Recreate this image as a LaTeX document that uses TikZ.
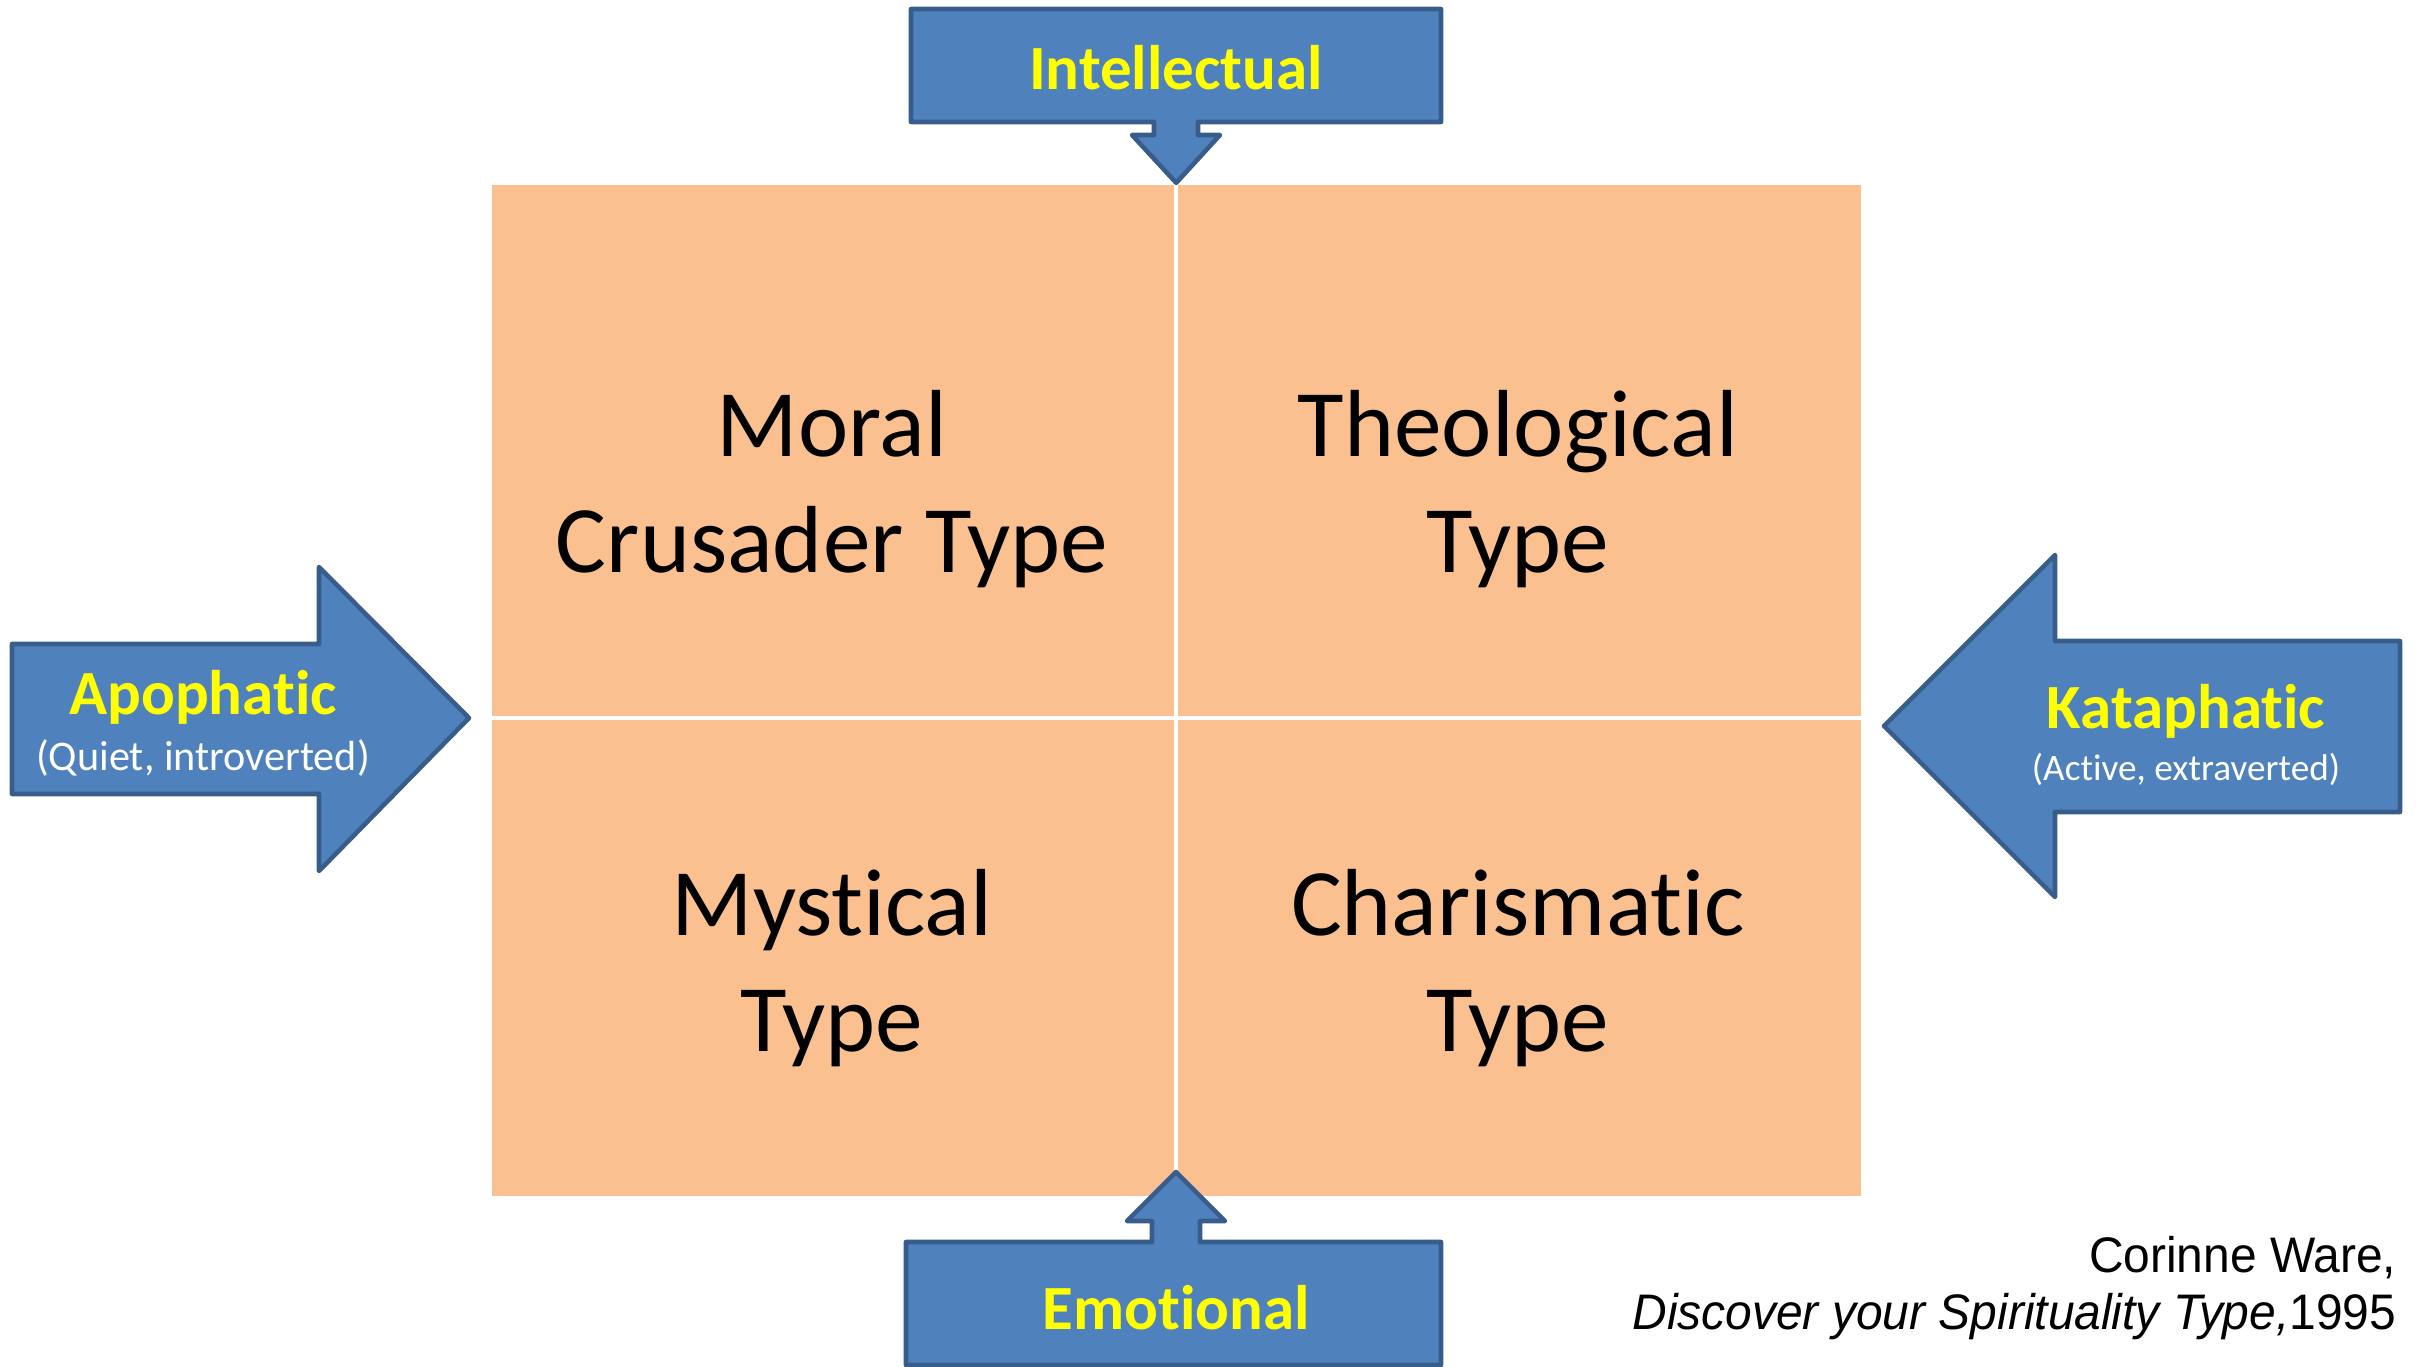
\documentclass[tikz,border=0pt]{standalone}
\usepackage{fontspec}
\setmainfont{Carlito}[Ligatures=NoCommon]
\newfontfamily\creditfont[FakeStretch=0.96]{Liberation Sans}
\usetikzlibrary{positioning}
\definecolor{cellorange}{HTML}{FAC090}
\definecolor{arrowblue}{HTML}{4F81BD}
\definecolor{arrowedge}{HTML}{385D8A}
\definecolor{labelyellow}{HTML}{FFFF00}

\begin{document}
\begin{tikzpicture}[
    x=0.01cm, y=-0.01cm,
    node distance=0pt,
    cell/.style={rectangle, fill=cellorange, draw=white, line width=1.2pt, inner sep=0pt, outer sep=0pt, minimum width=6.86cm},
    celltext/.style={align=center, font=\fontsize{27.1}{33}\selectfont, inner sep=0pt},
    blockarrow/.style={fill=arrowblue, draw=arrowedge, line width=1.3pt, line join=round},
    axislabel/.style={font=\fontsize{17.9}{21}\selectfont\bfseries, text=labelyellow, inner sep=0pt},
    subtitle/.style={font=\fontsize{11}{13}\selectfont, text=white, inner sep=0pt}
]
   \useasboundingbox (0,0) rectangle (2417,1367);

   % Quadrants
   \node[cell, minimum height=5.35cm] (mc) at (833,450.5) {};
   \node[cell, minimum height=5.35cm] (th) [right=of mc] {};
   \node[cell, minimum height=4.80cm] (my) [below=of mc] {};
   \node[cell, minimum height=4.80cm] (ch) [right=of my] {};

   \node[celltext] (mctext) at (832,489) {Moral\\Crusader Type};
   \node[celltext] (thtext) at (1518,489) {Theological\\Type};
   \node[celltext] (mytext) at (832,968) {Mystical\\Type};
   \node[celltext] (chtext) at (1518,968) {Charismatic\\Type};

   % Block arrows
   \draw[blockarrow] (911,9) -- (1441,9) -- (1441,122) -- (1198,122) -- (1198,135)
      -- (1220,135) -- (mc.north east) -- (1132,135) -- (1154,135) -- (1154,122) -- (911,122) -- cycle;
   \draw[blockarrow] (906,1365) -- (906,1242) -- (1152,1242) -- (1152,1221) -- (1127,1221)
      -- (1176,1172) -- (1225,1221) -- (1200,1221) -- (1200,1242) -- (1441,1242) -- (1441,1365) -- cycle;
   \draw[blockarrow] (12,644) -- (319,644) -- (319,567) -- (469,718) -- (319,871) -- (319,794) -- (12,794) -- cycle;
   \draw[blockarrow] (2400,641) -- (2055,641) -- (2055,555) -- (1884,726) -- (2055,897) -- (2055,812) -- (2400,812) -- cycle;

   % Arrow labels
   \node[axislabel] (intel) at (1176,68) {Intellectual};
   \node[axislabel] (emot) at (1176,1308) {Emotional};
   \node[axislabel] (apo) at (203,697) {Apophatic};
   \node[subtitle, font=\fontsize{12}{14}\selectfont] (aposub) at (203,758) {(Quiet, introverted)};
   \node[axislabel] (kata) at (2186,711) {Kataphatic};
   \node[subtitle, font=\fontsize{10.6}{12}\selectfont] (katasub) at (2186,769) {(Active, extraverted)};

   % Source
   \node[align=right, anchor=north east, inner sep=0pt, font=\creditfont\fontsize{14.2}{16.2}\selectfont] (credit) at (2397,1236)
      {Corinne Ware,\\\textit{Discover your Spirituality Type,}1995};
\end{tikzpicture}
\end{document}
